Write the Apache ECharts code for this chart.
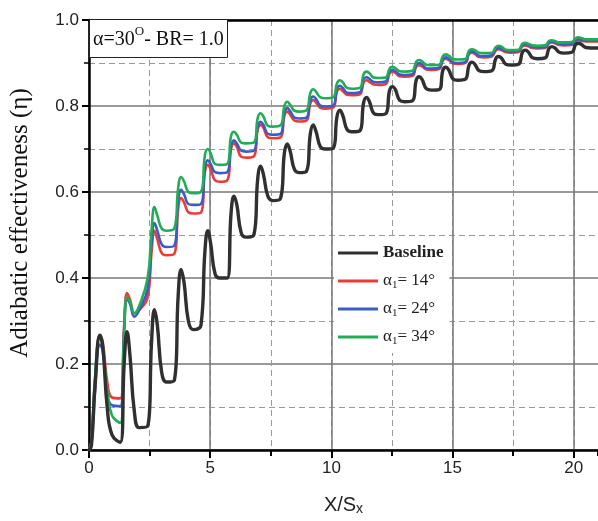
<!DOCTYPE html>
<html><head><meta charset="utf-8">
<script src="https://cdn.jsdelivr.net/npm/echarts@6/dist/echarts.min.js"></script>
<style>html,body{margin:0;padding:0;background:#fff}#c{width:598px;height:521px}</style>
</head><body><div id="c"></div>
<script>
// X/Sx sample positions (shared by all series)
const xs = [0, 0.1, 0.25, 0.45, 0.57, 0.75, 0.95,
 1.29, 1.45, 1.57, 1.69, 1.87, 2.07,
 2.42, 2.58, 2.7, 2.82, 3.0, 3.2,
 3.52, 3.68, 3.8, 3.92, 4.1, 4.3,
 4.62, 4.78, 4.9, 5.02, 5.2, 5.4,
 5.7, 5.86, 5.98, 6.1, 6.28, 6.48,
 6.8, 6.96, 7.08, 7.2, 7.38, 7.58,
 7.9, 8.06, 8.18, 8.3, 8.48, 8.68,
 8.97, 9.13, 9.25, 9.37, 9.55, 9.75,
 10.07, 10.23, 10.35, 10.47, 10.65, 10.85,
 11.17, 11.33, 11.45, 11.57, 11.75, 11.95,
 12.24, 12.4, 12.52, 12.64, 12.82, 13.02,
 13.34, 13.5, 13.62, 13.74, 13.92, 14.12,
 14.44, 14.6, 14.72, 14.84, 15.02, 15.22,
 15.52, 15.68, 15.8, 15.92, 16.1, 16.3,
 16.62, 16.78, 16.9, 17.02, 17.2, 17.4,
 17.72, 17.88, 18.0, 18.12, 18.3, 18.5,
 18.82, 18.98, 19.1, 19.22, 19.4, 19.6,
 19.92, 20.08, 20.2, 20.32, 20.5, 20.7, 21.0];

const baseline = [0.0, 0.01, 0.15, 0.267, 0.24, 0.10, 0.035,
 0.018, 0.20, 0.275, 0.22, 0.09, 0.052,
 0.055, 0.25, 0.326, 0.29, 0.18, 0.158,
 0.162, 0.36, 0.42, 0.39, 0.30, 0.28,
 0.29, 0.46, 0.51, 0.48, 0.41, 0.40,
 0.40, 0.55, 0.59, 0.57, 0.505, 0.495,
 0.50, 0.63, 0.66, 0.64, 0.59, 0.58,
 0.585, 0.69, 0.712, 0.695, 0.652, 0.645,
 0.648, 0.735, 0.756, 0.74, 0.705, 0.70,
 0.702, 0.775, 0.79, 0.778, 0.745, 0.74,
 0.742, 0.808, 0.82, 0.81, 0.783, 0.78,
 0.782, 0.836, 0.845, 0.838, 0.813, 0.81,
 0.812, 0.86, 0.868, 0.862, 0.84, 0.837,
 0.838, 0.883, 0.89, 0.884, 0.863, 0.86,
 0.862, 0.895, 0.902, 0.897, 0.882, 0.88,
 0.882, 0.91, 0.915, 0.911, 0.897, 0.895,
 0.897, 0.925, 0.93, 0.926, 0.912, 0.91,
 0.912, 0.934, 0.938, 0.935, 0.925, 0.923,
 0.925, 0.943, 0.946, 0.943, 0.936, 0.935, 0.935];

const alpha14 = [0.0, 0.02, 0.16, 0.265, 0.25, 0.16, 0.122,
 0.12, 0.29, 0.365, 0.35, 0.318, 0.325,
 0.355, 0.46, 0.51, 0.49, 0.458, 0.453,
 0.456, 0.562, 0.586, 0.576, 0.553, 0.55,
 0.552, 0.645, 0.663, 0.653, 0.627, 0.624,
 0.627, 0.70, 0.713, 0.705, 0.682, 0.68,
 0.683, 0.745, 0.756, 0.749, 0.727, 0.725,
 0.727, 0.777, 0.787, 0.78, 0.766, 0.764,
 0.766, 0.806, 0.814, 0.808, 0.796, 0.794,
 0.796, 0.834, 0.84, 0.835, 0.826, 0.825,
 0.827, 0.855, 0.86, 0.856, 0.85, 0.849,
 0.851, 0.876, 0.88, 0.877, 0.869, 0.868,
 0.87, 0.891, 0.895, 0.892, 0.885, 0.884,
 0.886, 0.906, 0.91, 0.907, 0.899, 0.898,
 0.90, 0.921, 0.924, 0.921, 0.914, 0.913,
 0.915, 0.929, 0.932, 0.93, 0.925, 0.924,
 0.925, 0.939, 0.941, 0.939, 0.935, 0.934,
 0.935, 0.946, 0.948, 0.946, 0.942, 0.941,
 0.942, 0.951, 0.953, 0.951, 0.95, 0.95, 0.95];

const alpha24 = [0.0, 0.01, 0.14, 0.245, 0.23, 0.13, 0.104,
 0.102, 0.28, 0.35, 0.34, 0.31, 0.325,
 0.375, 0.48, 0.528, 0.51, 0.478, 0.472,
 0.475, 0.58, 0.605, 0.595, 0.572, 0.57,
 0.572, 0.655, 0.674, 0.665, 0.646, 0.644,
 0.646, 0.707, 0.72, 0.713, 0.696, 0.694,
 0.696, 0.752, 0.763, 0.756, 0.735, 0.733,
 0.735, 0.785, 0.795, 0.788, 0.773, 0.771,
 0.773, 0.814, 0.822, 0.816, 0.801, 0.799,
 0.801, 0.84, 0.847, 0.842, 0.831, 0.83,
 0.832, 0.862, 0.867, 0.863, 0.856, 0.855,
 0.857, 0.88, 0.884, 0.881, 0.873, 0.872,
 0.874, 0.896, 0.90, 0.897, 0.888, 0.887,
 0.889, 0.909, 0.913, 0.91, 0.901, 0.90,
 0.902, 0.924, 0.927, 0.924, 0.917, 0.916,
 0.918, 0.932, 0.935, 0.933, 0.928, 0.927,
 0.928, 0.942, 0.944, 0.942, 0.937, 0.936,
 0.937, 0.948, 0.95, 0.948, 0.945, 0.944,
 0.945, 0.954, 0.956, 0.954, 0.952, 0.952, 0.952];

const alpha34 = [0.0, 0.02, 0.17, 0.268, 0.24, 0.14, 0.08,
 0.063, 0.27, 0.355, 0.345, 0.318, 0.335,
 0.40, 0.51, 0.565, 0.545, 0.515, 0.51,
 0.515, 0.61, 0.635, 0.625, 0.60, 0.597,
 0.60, 0.685, 0.70, 0.69, 0.665, 0.663,
 0.665, 0.73, 0.74, 0.733, 0.715, 0.713,
 0.715, 0.772, 0.783, 0.775, 0.754, 0.752,
 0.755, 0.80, 0.81, 0.803, 0.789, 0.787,
 0.79, 0.83, 0.839, 0.833, 0.82, 0.818,
 0.82, 0.853, 0.86, 0.855, 0.842, 0.84,
 0.842, 0.874, 0.88, 0.876, 0.866, 0.865,
 0.866, 0.887, 0.891, 0.888, 0.881, 0.88,
 0.882, 0.903, 0.907, 0.904, 0.896, 0.895,
 0.896, 0.916, 0.92, 0.917, 0.909, 0.908,
 0.909, 0.929, 0.932, 0.93, 0.924, 0.923,
 0.924, 0.937, 0.94, 0.938, 0.931, 0.93,
 0.931, 0.945, 0.947, 0.945, 0.941, 0.94,
 0.941, 0.951, 0.953, 0.951, 0.948, 0.948,
 0.949, 0.958, 0.96, 0.958, 0.955, 0.955, 0.955];

const seriesNames = ['Baseline', 'α1= 14°', 'α1= 24°', 'α1= 34°'];
const seriesColors = ['#303030', '#ec3a36', '#3a5cc8', '#21ad55'];
const seriesWidths = [3.4, 2.6, 2.6, 2.6];
const seriesValues = [baseline, alpha14, alpha24, alpha34];

const serif = 'Liberation Serif';
const sans = 'Liberation Sans';

const chart = echarts.init(document.getElementById('c'), null, {renderer: 'canvas'});
const drawOrder = [1, 2, 3, 0];
chart.setOption({
  animation: false,
  backgroundColor: '#fff',
  grid: {left: 88, right: 0, top: 20, bottom: 71, containLabel: false},
  title: {
    text: 'α=30{sup|O}- BR= 1.0',
    left: 89, top: 19,
    padding: [6, 4, 4, 4],
    borderColor: '#222', borderWidth: 1, backgroundColor: '#fff',
    textStyle: {
      fontFamily: serif, fontSize: 20, fontWeight: 'normal', color: '#111', lineHeight: 29,
      rich: {sup: {fontFamily: serif, fontSize: 13, lineHeight: 14, verticalAlign: 'top', color: '#111'}}
    }
  },
  legend: {
    orient: 'vertical', left: 334, top: 239,
    backgroundColor: '#fff', padding: [4, 6, 6, 4],
    icon: 'rect',
    itemWidth: 40, itemHeight: 3, itemGap: 8,
    data: seriesNames,
    formatter: n => n === 'Baseline' ? '{b|Baseline}' : n.replace('α1', 'α{sub|1}'),
    textStyle: {
      fontFamily: serif, fontSize: 17, color: '#222', lineHeight: 20,
      rich: {
        sub: {fontFamily: serif, fontSize: 11, lineHeight: 10, verticalAlign: 'bottom', color: '#222'},
        b: {fontFamily: serif, fontSize: 17, fontWeight: 'bold', color: '#222'}
      }
    }
  },
  xAxis: [
    { // minor grid (dashed) at 2.5 steps
      type: 'value', min: 0, max: 21, interval: 2.5, position: 'bottom',
      axisLine: {show: false},
      axisTick: {show: true, length: 6, lineStyle: {color: '#000', width: 2}},
      axisLabel: {show: false},
      splitLine: {show: true, showMaxLine: false, lineStyle: {color: '#9a9a9a', width: 1, type: [6, 4]}}
    },
    { // major axis
      type: 'value', min: 0, max: 21, interval: 5, position: 'bottom',
      axisLine: {show: true, lineStyle: {color: '#000', width: 2.5}},
      axisTick: {show: true, length: 8, lineStyle: {color: '#000', width: 2}},
      axisLabel: {show: true, fontFamily: sans, fontSize: 17, color: '#222', margin: 10, showMaxLabel: false,
        formatter: v => (v % 5 === 0 ? String(v) : '')},
      splitLine: {show: true, showMaxLine: false, lineStyle: {color: '#777', width: 1.5}},
      name: 'X/S{sub|x}', nameLocation: 'middle', nameGap: 44,
      nameTextStyle: {fontFamily: sans, fontSize: 20, color: '#222', lineHeight: 22,
        rich: {sub: {fontFamily: sans, fontSize: 14, lineHeight: 12, verticalAlign: 'bottom', color: '#222'}}}
    },
    { // top border
      type: 'value', min: 0, max: 21, position: 'top',
      axisLine: {show: true, lineStyle: {color: '#000', width: 2.5}},
      axisTick: {show: false}, axisLabel: {show: false}, splitLine: {show: false}
    }
  ],
  yAxis: {
    type: 'value', min: 0, max: 1, interval: 0.2,
    axisLine: {show: true, lineStyle: {color: '#000', width: 2.5}},
    axisTick: {show: true, length: 7, lineStyle: {color: '#000', width: 2}},
    minorTick: {show: true, splitNumber: 2, length: 5, lineStyle: {color: '#000', width: 1.5}},
    splitLine: {show: true, lineStyle: {color: '#777', width: 1.5}},
    minorSplitLine: {show: true, lineStyle: {color: '#9a9a9a', width: 1, type: [6, 4]}},
    axisLabel: {fontFamily: sans, fontSize: 17, color: '#222', margin: 10, formatter: v => v.toFixed(1)},
    name: 'Adiabatic effectiveness (η)', nameLocation: 'middle', nameGap: 56,
    nameTextStyle: {fontFamily: serif, fontSize: 25, color: '#111', padding: [0, 0, 0, 24]}
  },
  series: drawOrder.map(i => ({
    name: seriesNames[i],
    type: 'line',
    xAxisIndex: 1,
    data: xs.map((x, j) => [x, seriesValues[i][j]]),
    symbol: 'none', showSymbol: false,
    smooth: 0.45,
    lineStyle: {color: seriesColors[i], width: seriesWidths[i], join: 'round', cap: 'round'},
    itemStyle: {color: seriesColors[i]},
    z: i === 0 ? 3 : 2
  }))
});
</script></body></html>
